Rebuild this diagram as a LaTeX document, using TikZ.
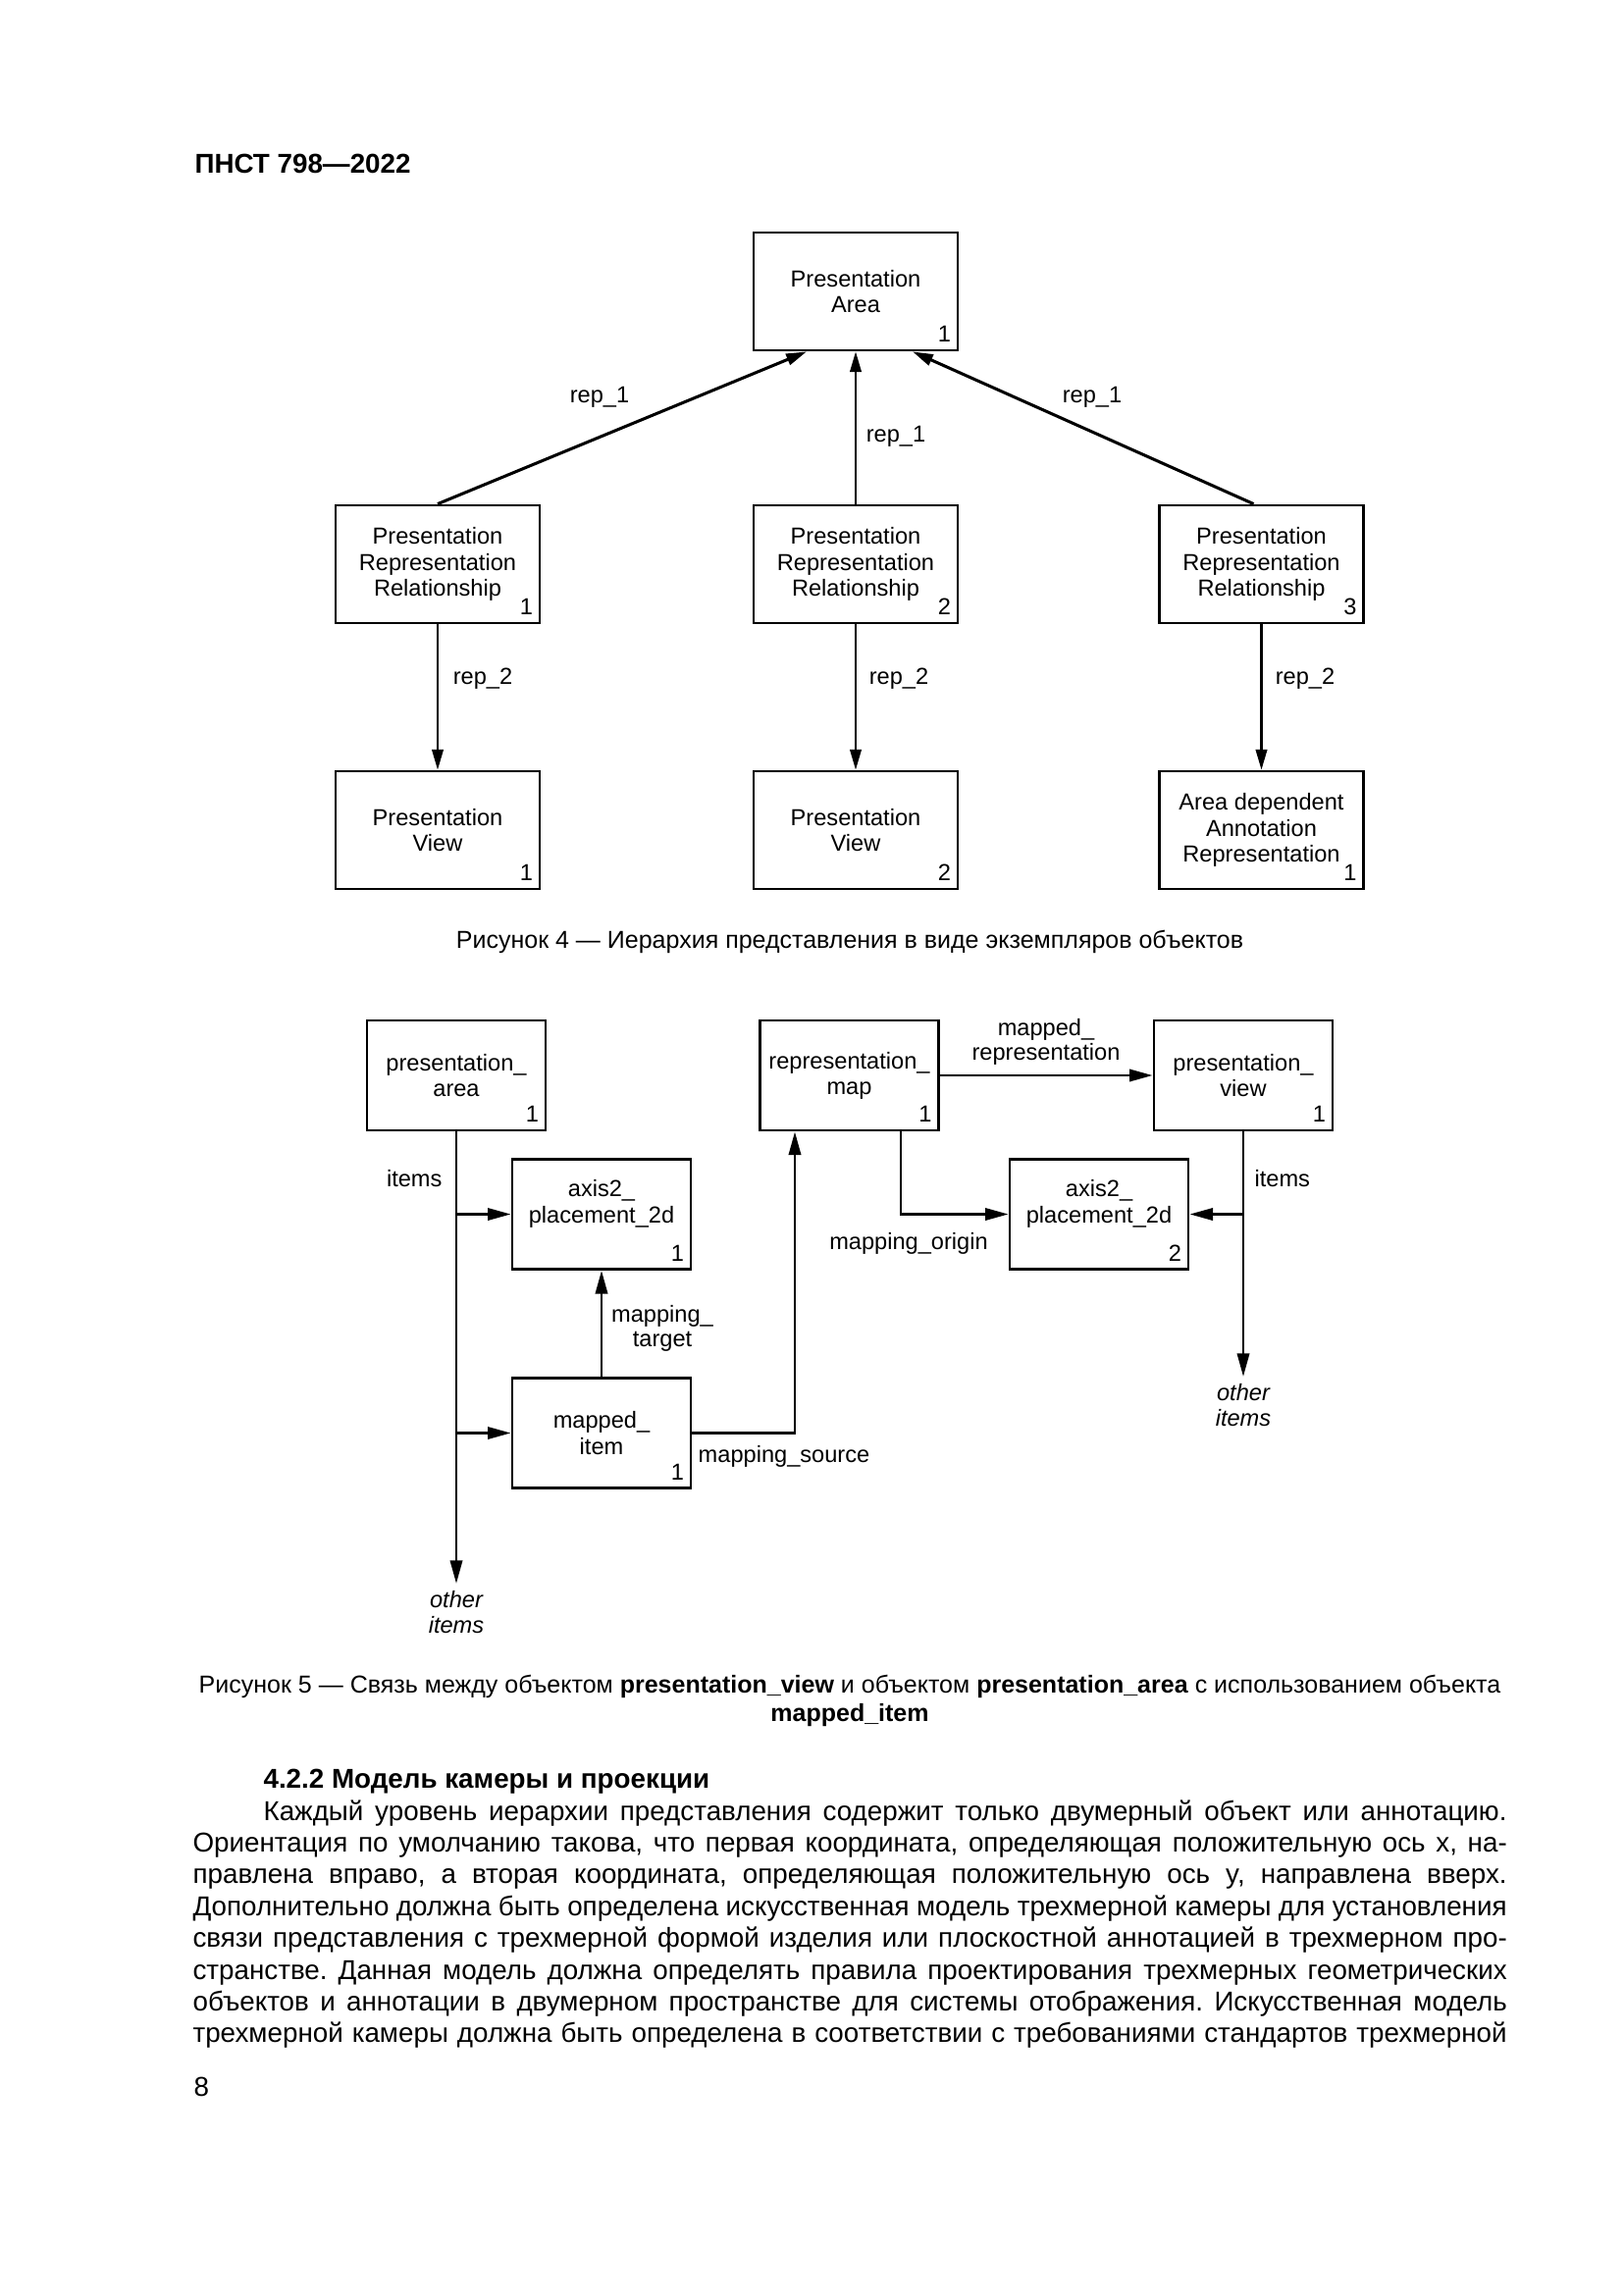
\documentclass[tikz,border=0pt]{standalone}
\usepackage{fontspec}
\setmainfont{Liberation Sans}
\usetikzlibrary{arrows.meta,calc}
\frenchspacing
\tikzset{
  box1/.style={draw, line width=1pt, minimum width=74.9pt, minimum height=43.2pt, align=center, inner sep=0pt, font=\fontsize{8.5}{9.4}\selectfont},
  box2/.style={draw, line width=1pt, minimum width=65.5pt, minimum height=40.3pt, align=center, inner sep=0pt, font=\fontsize{8.5}{9.4}\selectfont},
  num/.style={anchor=south east, inner xsep=2.8pt, inner ysep=3.3pt, font=\fontsize{8.5}{9}\selectfont},
  lbl/.style={align=center, inner sep=0pt, font=\fontsize{8.5}{9.2}\selectfont},
  arrthin/.style={-{Triangle[length=7.5pt,width=4.2pt]}, line width=0.75pt},
  arrthick/.style={-{Triangle[length=7.5pt,width=4.2pt]}, line width=1.1pt},
  arrtwo/.style={-{Triangle[length=8.5pt,width=4.4pt]}, line width=1pt},
  capt/.style={anchor=base, inner sep=0pt, font=\fontsize{9}{11}\selectfont},
  body/.style={anchor=base west, inner sep=0pt, font=\fontsize{10}{12}\selectfont},
}
\begin{document}
\begin{tikzpicture}[x=0.35991pt,y=-0.35991pt]
\fill[white] (0,0) rectangle (1654,2339);
\useasboundingbox (0,0) rectangle (1654,2339);

\node[anchor=base west, inner sep=0pt, font=\bfseries\fontsize{10}{12}\selectfont] (hdr) at (198,177) {ПНСТ 798—2022};

% ---------- Figure 4 ----------
\node[box1] (A) at (872,297) {Presentation\\Area};
\node[num] (An) at (A.south east) {1};

\node[box1] (R1) at (446,575) {Presentation\\Representation\\Relationship};
\node[num] (R1n) at (R1.south east) {1};
\node[box1] (R2) at (872,575) {Presentation\\Representation\\Relationship};
\node[num] (R2n) at (R2.south east) {2};
\node[box1] (R3) at (1285.5,575) {Presentation\\Representation\\Relationship};
\node[num] (R3n) at (R3.south east) {3};

\node[box1] (V1) at (446,846) {Presentation\\View};
\node[num] (V1n) at (V1.south east) {1};
\node[box1] (V2) at (872,846) {Presentation\\View};
\node[num] (V2n) at (V2.south east) {2};
\node[box1] (D3) at (1285.5,846) {Area dependent\\Annotation\\Representation};
\node[num] (D3n) at (D3.south east) {1};

\draw[arrthick] (R1.north) -- ($(A.south)+(-50,0)$);
\draw[arrthin] (R2.north) -- (A.south);
\draw[arrthick] ($(R3.north)+(-8,0)$) -- ($(A.south)+(58,0)$);
\node[lbl] (l11) at (611,405) {rep\_1};
\node[lbl] (l12) at (913,445) {rep\_1};
\node[lbl] (l13) at (1113,405) {rep\_1};

\draw[arrthin] (R1.south) -- (V1.north);
\draw[arrthin] (R2.south) -- (V2.north);
\draw[arrthin] (R3.south) -- (D3.north);
\node[lbl] (l21) at (492,692) {rep\_2};
\node[lbl] (l22) at (916,692) {rep\_2};
\node[lbl] (l23) at (1330,692) {rep\_2};

\node[capt] (cap4) at (866,966) {Рисунок 4 — Иерархия представления в виде экземпляров объектов};

% ---------- Figure 5 ----------
\node[box2] (PA) at (465,1096) {presentation\_\\area};
\node[num] (PAn) at (PA.south east) {1};
\node[box2] (RM) at (865.5,1096) {representation\_\\map};
\node[num] (RMn) at (RM.south east) {1};
\node[box2] (PV) at (1267,1096) {presentation\_\\view};
\node[num] (PVn) at (PV.south east) {1};
\node[box2] (AX1) at (613,1237.5) {axis2\_\\placement\_2d\\\mbox{}};
\node[num] (AX1n) at (AX1.south east) {1};
\node[box2] (MI) at (613,1460.5) {mapped\_\\item};
\node[num] (MIn) at (MI.south east) {1};
\node[box2] (AX2) at (1120,1237.5) {axis2\_\\placement\_2d\\\mbox{}};
\node[num] (AX2n) at (AX2.south east) {2};

\coordinate (oi1) at (465,1614);
\coordinate (oi2) at (1267,1403);

\draw[arrtwo] (PA.south) -- (oi1);
\draw[arrtwo] (PA.south |- AX1.west) -- (AX1.west);
\draw[arrtwo] (PA.south |- MI.west) -- (MI.west);
\node[lbl, anchor=east] (it1) at (451,1201) {items};
\node[lbl, font=\itshape\fontsize{8.5}{9.4}\selectfont] (ot1) at (465,1643) {other\\items};

\draw[arrtwo] (MI.north) -- (AX1.south);
\node[lbl] (mt) at (675,1354) {mapping\_\\target};

\draw[arrtwo] (MI.east) -| ($(RM.south)+(-55.5,0)$);
\node[lbl] (ms) at (799,1484) {mapping\_source};

\draw[arrtwo] ($(RM.south)+(52.5,0)$) |- (AX2.west);
\node[lbl] (mo) at (926,1267) {mapping\_origin};

\draw[arrtwo] (RM.east) -- (PV.west);
\node[lbl] (mr) at (1066,1062) {mapped\_\\representation};

\draw[arrtwo] (PV.south) -- (oi2);
\draw[arrtwo] (PV.south |- AX2.east) -- (AX2.east);
\node[lbl, anchor=west] (it2) at (1278,1201) {items};
\node[lbl, font=\itshape\fontsize{8.5}{9.4}\selectfont] (ot2) at (1267,1432) {other\\items};

\node[capt] (cap5a) at (866,1725) {Рисунок 5 — Связь между объектом \textbf{presentation\_view} и объектом \textbf{presentation\_area} с использованием объекта};
\node[capt] (cap5b) at (866,1754) {\textbf{mapped\_item}};

% ---------- Text ----------
\node[body, font=\bfseries\fontsize{10}{12}\selectfont] (sec) at (268,1822) {4.2.2 Модель камеры и проекции};
\node[body] (b1) at (268,1855) {\makebox[456pt][s]{Каждый уровень иерархии представления содержит только двумерный объект или аннотацию.}};
\node[body] (b2) at (196,1887.4) {\makebox[482pt][s]{Ориентация по умолчанию такова, что первая координата, определяющая положительную ось x, на-}};
\node[body] (b3) at (196,1919.8) {\makebox[482pt][s]{правлена вправо, а вторая координата, определяющая положительную ось y, направлена вверх.}};
\node[body] (b4) at (196,1952.2) {\makebox[482pt][s]{Дополнительно должна быть определена искусственная модель трехмерной камеры для установления}};
\node[body] (b5) at (196,1984.6) {\makebox[482pt][s]{связи представления с трехмерной формой изделия или плоскостной аннотацией в трехмерном про-}};
\node[body] (b6) at (196,2017) {\makebox[482pt][s]{странстве. Данная модель должна определять правила проектирования трехмерных геометрических}};
\node[body] (b7) at (196,2049.4) {\makebox[482pt][s]{объектов и аннотации в двумерном пространстве для системы отображения. Искусственная модель}};
\node[body] (b8) at (196,2081.8) {\makebox[482pt][s]{трехмерной камеры должна быть определена в соответствии с требованиями стандартов трехмерной}};

\node[body] (pg) at (197,2136) {8};
\end{tikzpicture}
\end{document}
